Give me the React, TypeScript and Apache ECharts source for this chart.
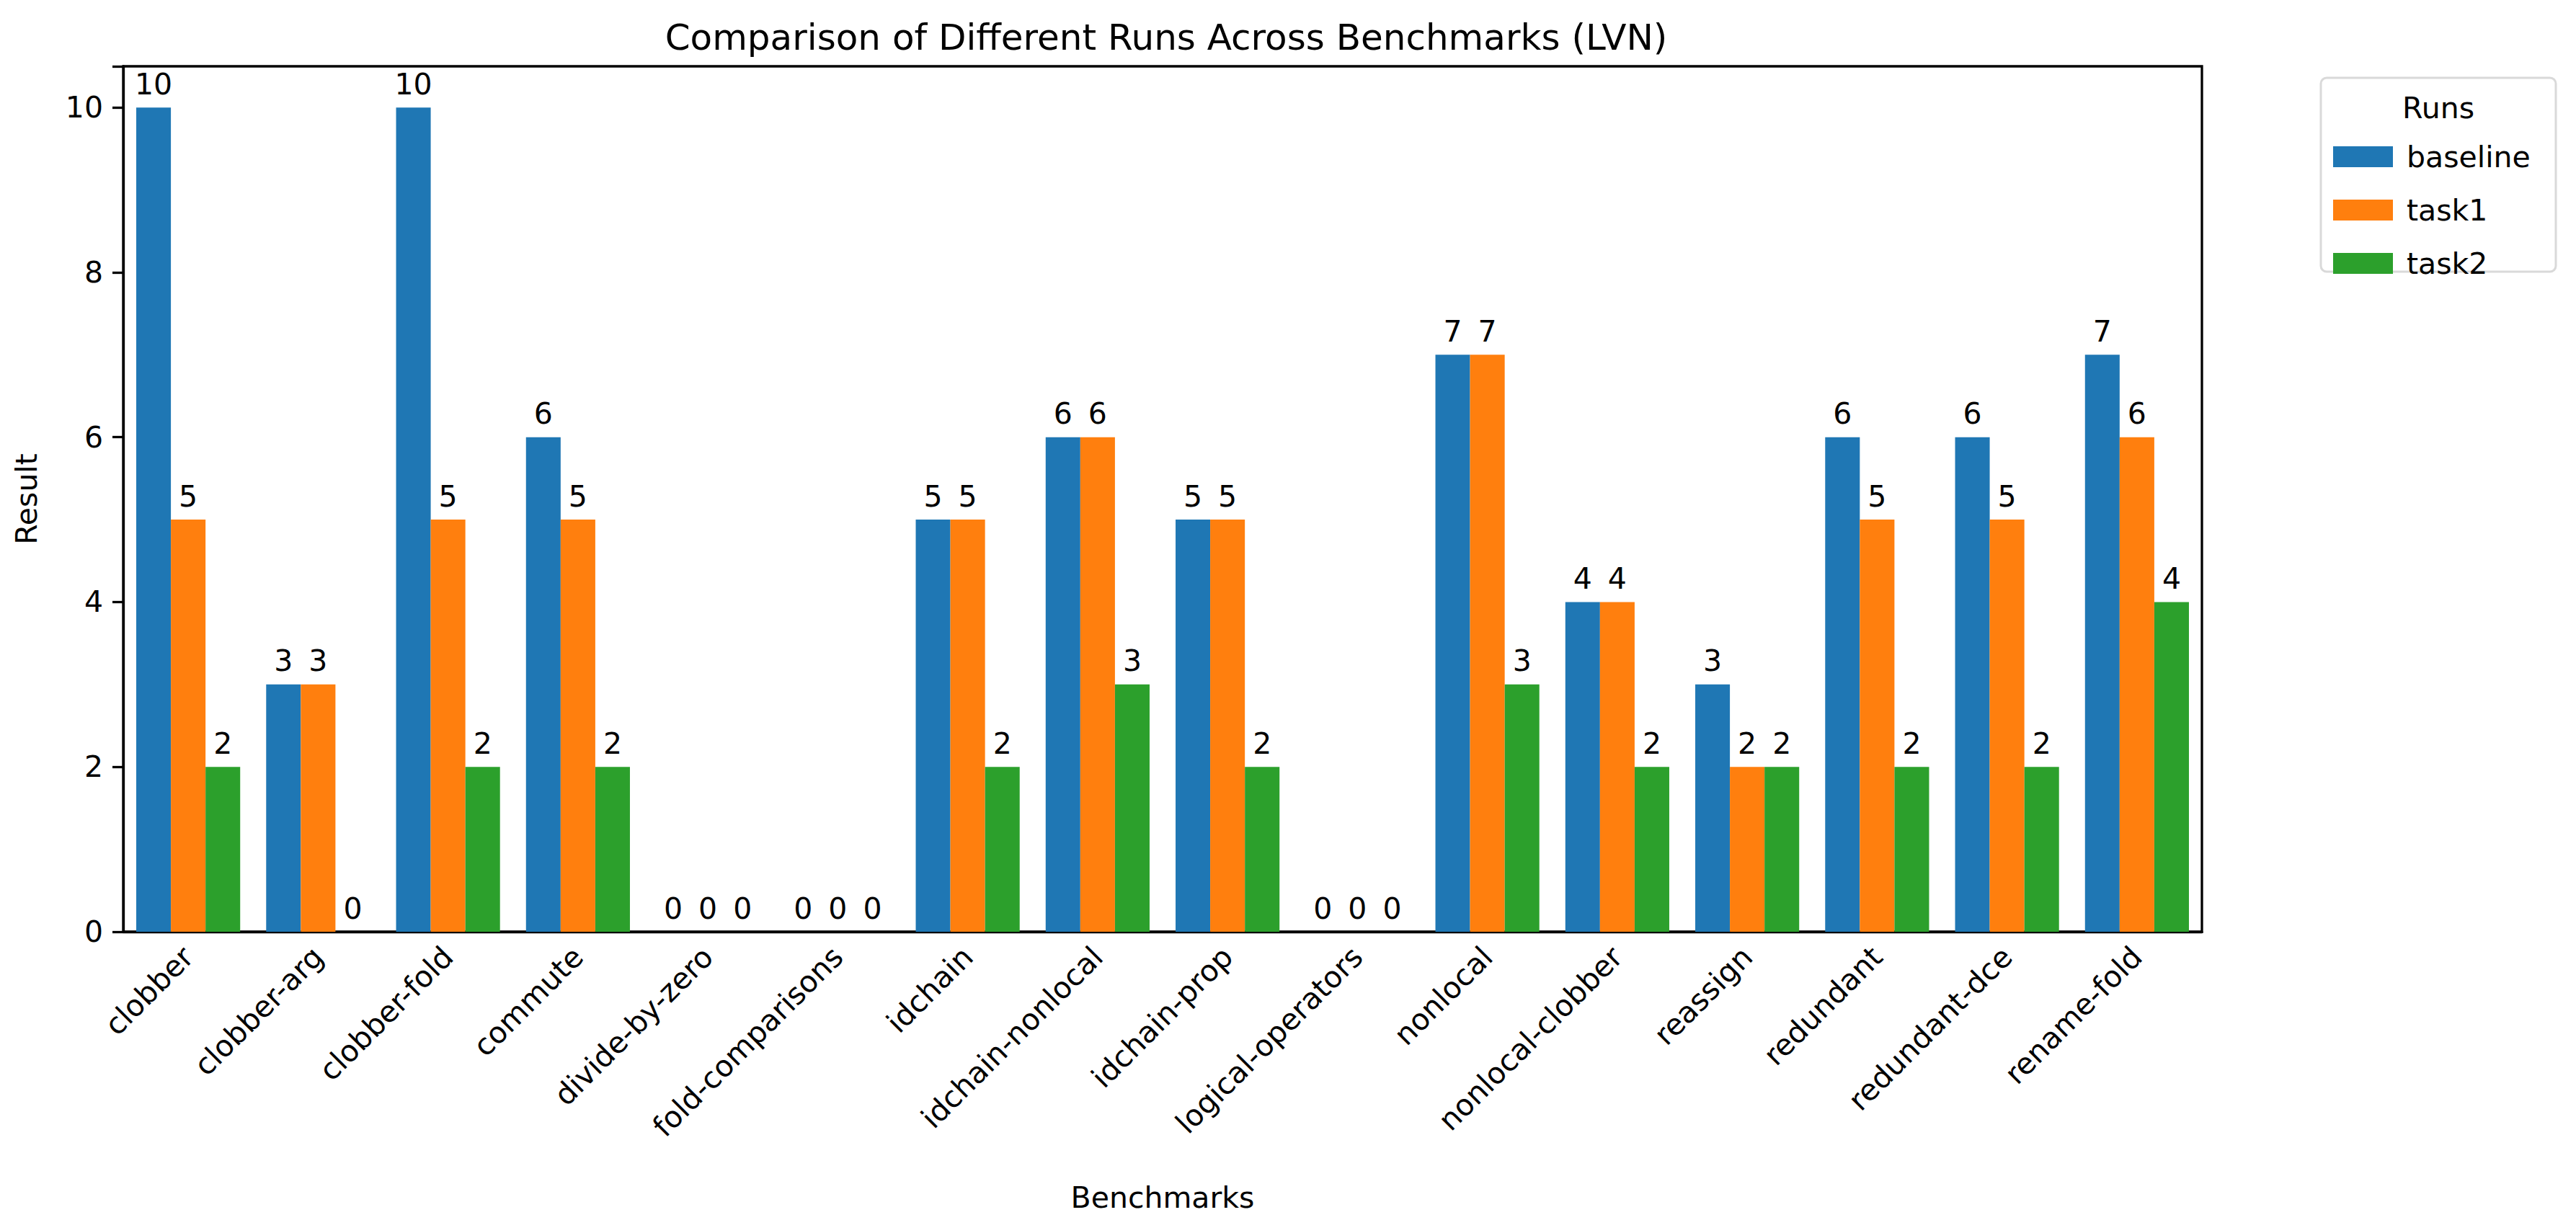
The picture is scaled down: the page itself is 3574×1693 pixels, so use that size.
import { useEffect, useRef } from "react";
import * as echarts from "echarts";

const benchmarks = [
  "clobber", "clobber-arg", "clobber-fold", "commute", "divide-by-zero", "fold-comparisons",
  "idchain", "idchain-nonlocal", "idchain-prop", "logical-operators", "nonlocal",
  "nonlocal-clobber", "reassign", "redundant", "redundant-dce", "rename-fold",
];
const baseline = [10, 3, 10, 6, 0, 0, 5, 6, 5, 0, 7, 4, 3, 6, 6, 7];
const task1 = [5, 3, 5, 5, 0, 0, 5, 6, 5, 0, 7, 4, 2, 5, 5, 6];
const task2 = [2, 0, 2, 2, 0, 0, 2, 3, 2, 0, 3, 2, 2, 2, 2, 4];
const runs = ["baseline", "task1", "task2"];
const colors = ["#1f77b4", "#ff7f0e", "#2ca02c"];

const FONT = "DejaVu Sans";

const App: React.FC = () => {
  const chartRef = useRef<HTMLDivElement>(null);

  useEffect(() => {
    if (!chartRef.current) return;
    const chart = echarts.init(chartRef.current, null, { renderer: "svg" });
    const values = [baseline, task1, task2];

    chart.setOption({
      animation: false,
      backgroundColor: "#fff",
      textStyle: { fontFamily: FONT, color: "#000" },
      title: {
        text: "Comparison of Different Runs Across Benchmarks (LVN)",
        left: 1613,
        textAlign: "center",
        top: 22,
        textStyle: { fontSize: 50, fontWeight: "normal", color: "#000", fontFamily: FONT },
      },
      grid: { left: 171, right: 519, top: 92, bottom: 400, show: true, borderColor: "#000", borderWidth: 3.3, backgroundColor: "transparent" },
      legend: {
        data: runs,
        orient: "vertical",
        left: 3237,
        top: 197,
        itemWidth: 83,
        itemHeight: 29,
        itemGap: 33,
        icon: "rect",
        padding: 0,
        textStyle: { fontSize: 41, color: "#000", fontFamily: FONT, padding: [0, 0, 0, 14] },
      },
      graphic: [
        {
          type: "rect",
          shape: { x: 3220, y: 108, width: 326, height: 269, r: 8 },
          style: { fill: "rgba(255,255,255,0.8)", stroke: "#d9d9d9", lineWidth: 3 },
          z: -1,
        },
        {
          type: "text",
          x: 3383,
          y: 150,
          style: { text: "Runs", fontSize: 41, fontFamily: FONT, fill: "#000", align: "center", verticalAlign: "middle" },
        },
      ],
      xAxis: {
        type: "category",
        data: benchmarks,
        name: "Benchmarks",
        nameLocation: "middle",
        nameGap: 348,
        nameTextStyle: { fontSize: 41, color: "#000", fontFamily: FONT },
        axisLine: { lineStyle: { color: "#000", width: 3.3 } },
        axisTick: { alignWithLabel: true, length: 15, lineStyle: { color: "#000", width: 3.3 } },
        axisLabel: { rotate: 45, fontSize: 41, color: "#000", fontFamily: FONT, margin: 28, interval: 0 },
      },
      yAxis: {
        type: "value",
        min: 0,
        max: 10.5,
        interval: 2,
        name: "Result",
        nameLocation: "middle",
        nameGap: 114,
        nameTextStyle: { fontSize: 41, color: "#000", fontFamily: FONT },
        splitLine: { show: false },
        axisLine: { show: true, lineStyle: { color: "#000", width: 3.3 } },
        axisTick: { show: true, length: 15, lineStyle: { color: "#000", width: 3.3 } },
        axisLabel: {
          fontSize: 41, color: "#000", fontFamily: FONT, margin: 28,
          formatter: (v: number) => (v % 2 === 0 ? String(v) : ""),
        },
      },
      series: runs.map((name, i) => ({
        name,
        type: "bar",
        data: values[i],
        itemStyle: { color: colors[i] },
        barGap: "0%",
        barCategoryGap: "20%",
        label: { show: true, position: "top", distance: 12, fontSize: 41, color: "#000", fontFamily: FONT },
      })),
    });

    return () => chart.dispose();
  }, []);

  return <div ref={chartRef} style={{ position: "absolute", left: 0, top: 0, width: "3574px", height: "1693px" }} />;
};

export default App;
